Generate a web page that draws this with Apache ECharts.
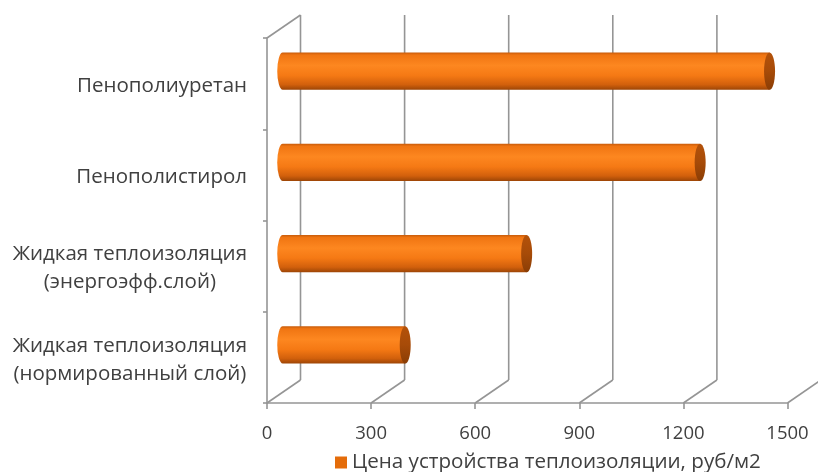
<!DOCTYPE html>
<html>
<head>
<meta charset="utf-8">
<script src="https://cdn.jsdelivr.net/npm/echarts@6/dist/echarts.min.js"></script>
<style>
  html, body { margin: 0; padding: 0; background: #ffffff; }
  #chart { width: 818px; height: 472px; }
</style>
</head>
<body>
<div id="chart"></div>
<script>
// Insulation materials, top to bottom
const categories = [
  'Пенополиуретан',
  'Пенополистирол',
  'Жидкая теплоизоляция\n(энергоэфф.слой)',
  'Жидкая теплоизоляция\n(нормированный слой)'
];
// Installation price, rub per m2
const prices = [1400, 1200, 700, 350];
// Value axis ticks
const valueTicks = [0, 300, 600, 900, 1200, 1500];
const seriesName = 'Цена устройства теплоизоляции, руб/м2';

// Oblique depth of the pseudo-3D box (back wall is up and to the right)
const DX = 33.5;
const DY = -23;
const LINE = '#959595';
const TEXT = '#404040';
const FONT = 'Open Sans';

const chart = echarts.init(document.getElementById('chart'), null, { renderer: 'canvas' });

// Back wall gridlines, floor diagonals and the top edge of the side wall
function renderFrame(params, api) {
  const cs = params.coordSys;
  const v = api.value(0);
  const x = api.coord([v, 0])[0];
  const floorY = cs.y + cs.height;
  const topY = cs.y;
  const style = { stroke: LINE, lineWidth: 1.6, fill: null };
  const children = [
    { type: 'line', shape: { x1: x + DX, y1: topY + DY, x2: x + DX, y2: floorY + DY }, style },
    { type: 'line', shape: { x1: x + DX, y1: floorY + DY, x2: x, y2: floorY }, style }
  ];
  if (v === 0) {
    children.push({ type: 'line', shape: { x1: x, y1: topY, x2: x + DX, y2: topY + DY }, style });
  }
  return { type: 'group', children };
}

// Horizontal cylinders placed halfway into the depth
function renderCylinder(params, api) {
  const idx = api.value(1);
  const start = api.coord([0, idx]);
  const end = api.coord([api.value(0), idx]);
  const band = api.size([0, 1])[1];
  const h = band * 0.41;
  const rx = 5.5;
  const x0 = start[0] + DX / 2 - 1;
  const x1 = end[0] + DX / 2;
  const cy = start[1] + DY / 2 - 1;
  const bodyFill = new echarts.graphic.LinearGradient(0, 0, 0, 1, [
    { offset: 0, color: '#c65a0a' },
    { offset: 0.07, color: '#f07512' },
    { offset: 0.35, color: '#fd8720' },
    { offset: 0.62, color: '#f57914' },
    { offset: 0.86, color: '#d2600c' },
    { offset: 1, color: '#9c4506' }
  ]);
  const capFill = new echarts.graphic.LinearGradient(0, 0, 0, 1, [
    { offset: 0, color: '#b4520a' },
    { offset: 0.5, color: '#a74b08' },
    { offset: 1, color: '#8a3d05' }
  ]);
  // Body outline: left rounded end as a half ellipse, then a straight run to the cap
  const top = cy - h / 2;
  const bot = cy + h / 2;
  const ry = h / 2;
  const body = 'M' + x0 + ' ' + top +
    ' L' + x1 + ' ' + top +
    ' L' + x1 + ' ' + bot +
    ' L' + x0 + ' ' + bot +
    ' A' + rx + ' ' + ry + ' 0 0 1 ' + x0 + ' ' + top + ' Z';
  return {
    type: 'group',
    children: [
      { type: 'path', shape: { pathData: body }, style: { fill: bodyFill } },
      { type: 'ellipse', shape: { cx: x1, cy: cy, rx: rx, ry: ry }, style: { fill: capFill } }
    ]
  };
}

chart.setOption({
  animation: false,
  backgroundColor: '#ffffff',
  textStyle: { fontFamily: FONT },
  grid: { left: 267, right: 30.5, top: 38, bottom: 69, containLabel: false },
  legend: {
    data: [{ name: seriesName, icon: 'rect' }],
    bottom: -6,
    left: 330,
    itemWidth: 12,
    itemHeight: 12,
    itemGap: 6,
    textStyle: { color: TEXT, fontSize: 20.6, fontFamily: FONT }
  },
  xAxis: {
    type: 'value',
    min: 0,
    max: 1500,
    interval: 300,
    axisLine: { show: true, lineStyle: { color: LINE, width: 1.6 } },
    axisTick: { show: true, length: 6, lineStyle: { color: LINE, width: 1.6 } },
    splitLine: { show: false },
    axisLabel: {
      color: TEXT, fontSize: 18.5, fontFamily: FONT, margin: 21,
      formatter: (v) => String(v)
    }
  },
  yAxis: {
    type: 'category',
    data: categories,
    inverse: true,
    axisLine: { show: true, lineStyle: { color: LINE, width: 1.6 } },
    axisTick: { show: true, length: 4, lineStyle: { color: LINE, width: 1.6 } },
    splitLine: { show: false },
    axisLabel: {
      margin: 20,
      align: 'right',
      padding: [5, 0, 0, 0],
      formatter: (v) => v.split('\n').map((s) => '{c|' + s + '}').join('\n'),
      rich: {
        c: { align: 'center', color: TEXT, fontSize: 20.5, fontFamily: FONT, lineHeight: 28 }
      }
    }
  },
  series: [
    {
      type: 'custom',
      name: 'frame',
      silent: true,
      z: 1,
      renderItem: renderFrame,
      data: valueTicks.map((v) => [v, 0])
    },
    {
      type: 'custom',
      name: seriesName,
      z: 3,
      itemStyle: { color: '#e46c0a' },
      renderItem: renderCylinder,
      encode: { x: 0, y: 1 },
      data: prices.map((p, i) => [p, i])
    }
  ]
});
</script>
</body>
</html>
